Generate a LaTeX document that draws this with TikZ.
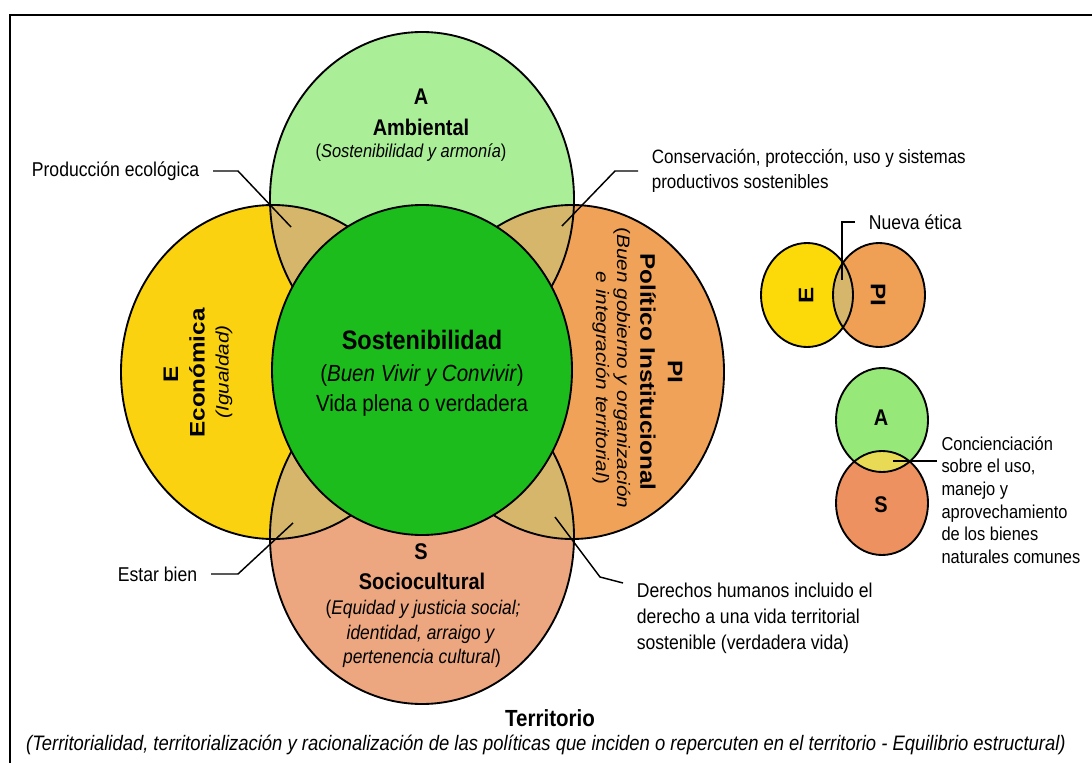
\documentclass[tikz,border=0pt]{standalone}
\usepackage{fontspec}
\setmainfont{Liberation Sans}[FakeStretch=0.88]
\newfontfamily\rotfont{Liberation Sans}[FakeStretch=1.15]

\definecolor{ambGreen}{RGB}{170,238,152}
\definecolor{ecoYellow}{RGB}{250,210,15}
\definecolor{polOrange}{RGB}{240,163,88}
\definecolor{socSalmon}{RGB}{236,166,128}
\definecolor{sostGreen}{RGB}{28,188,28}
\definecolor{mixTan}{RGB}{214,182,106}
\definecolor{smallYellow}{RGB}{252,218,10}
\definecolor{smallOrange}{RGB}{240,160,85}
\definecolor{smallGreen}{RGB}{150,232,120}
\definecolor{smallSalmon}{RGB}{236,145,95}
\definecolor{lensYellow}{RGB}{232,218,85}

\tikzset{every picture/.style={line width=0.75pt}}
\tikzset{
  bigoval/.style={x radius=152, y radius=167},
  smalloval/.style={x radius=46, y radius=52},
  ring/.style={line width=1.4pt},
  leader/.style={line width=1.1pt},
  lbl/.style={inner xsep=10pt, inner ysep=0pt, align=left, font=\fontsize{15}{19}\selectfont},
  ttl/.style={inner sep=0pt, font=\fontsize{17}{20}\selectfont\bfseries},
  sub/.style={inner sep=0pt, font=\fontsize{14.8}{18}\selectfont},
  rttl/.style={inner sep=0pt, font=\rotfont\fontsize{15.8}{19}\selectfont\bfseries},
  rsub/.style={inner sep=0pt, font=\rotfont\fontsize{13.5}{16}\selectfont}
}

\begin{document}
\begin{tikzpicture}[x=0.75pt,y=0.75pt,yscale=-1,xscale=1]
\useasboundingbox (0,0) rectangle (1092,763);

%Frame
\draw [line width=1.5pt] (10,775) -- (10,15) -- (1100,15);

%Centres of the ovals
\coordinate (cA) at (422,199);
\coordinate (cE) at (273,372);
\coordinate (cPI) at (572,372);
\coordinate (cS) at (422,537);
\coordinate (cG) at (422,370);

%Shape: Ellipse -- the four dimensions
\fill [ecoYellow] (cE) ellipse [bigoval];
\fill [polOrange] (cPI) ellipse [bigoval];
\fill [ambGreen] (cA) ellipse [bigoval];
\fill [socSalmon] (cS) ellipse [bigoval];
%overlaps
\begin{scope}
  \clip (cA) ellipse [bigoval];
  \fill [mixTan] (cE) ellipse [bigoval] (cPI) ellipse [bigoval];
\end{scope}
\begin{scope}
  \clip (cS) ellipse [bigoval];
  \fill [mixTan] (cE) ellipse [bigoval] (cPI) ellipse [bigoval];
\end{scope}
\draw [ring] (cA) ellipse [bigoval] (cE) ellipse [bigoval] (cPI) ellipse [bigoval] (cS) ellipse [bigoval];

%Shape: Ellipse -- centre
\draw [ring, fill=sostGreen] (cG) ellipse [x radius=150, y radius=165];

%Ambiental
\node [ttl] (tA) at (421,97) {A};
\node [ttl] (tAmb) at (421,127) {Ambiental};
\node [sub, font=\fontsize{14}{18}\selectfont] (sAmb) at (411,153) {(\textit{Sostenibilidad y armonía})};

%Sostenibilidad
\node [inner sep=0pt, font=\fontsize{20}{23}\selectfont\bfseries] (tSost) at (422,340) {Sostenibilidad};
\node [inner sep=0pt, font=\fontsize{17.5}{21}\selectfont] (sBuen) at (422,375) {(\textit{Buen Vivir y Convivir})};
\node [inner sep=0pt, font=\fontsize{17.5}{21}\selectfont] (sVida) at (422,405) {Vida plena o verdadera};

%Economica
\node [rttl, rotate=90] (tE) at (171,374) {E};
\node [rttl, rotate=90] (tEco) at (197,373) {Económica};
\node [rsub, rotate=90] (sIgu) at (224,372) {\textit{(Igualdad)}};

%Politico Institucional
\node [rttl, rotate=-90] (tPI) at (675,372) {PI};
\node [rttl, rotate=-90] (tPol) at (648,372) {Político Institucional};
\node [rsub, rotate=-90] (sGob) at (622,368) {(\textit{Buen gobierno y organización}};
\node [rsub, rotate=-90] (sInt) at (601,378) {\textit{e integración territorial})};

%Sociocultural
\node [ttl] (tS) at (421,552) {S};
\node [ttl] (tSoc) at (422,581) {Sociocultural};
\node [sub] (sEq) at (423,609) {(\textit{Equidad y justicia social;}};
\node [sub] (sIde) at (421,634) {\textit{identidad, arraigo y}};
\node [sub] (sPer) at (422,658) {\textit{pertenencia cultural})};

%Labels and leaders
\node [lbl, anchor=east] (lblProd) at (213,171) {Producción ecológica};
\coordinate (bProd) at (238,171);
\coordinate (pAE) at (291,227);
\draw [leader] (lblProd.east) -- (bProd) -- (pAE);

\node [lbl, anchor=west, font=\fontsize{14.5}{19}\selectfont] (lblCons) at (638,171) {Conservación, protección, uso y sistemas\\productivos sostenibles};
\coordinate (bCons) at (615,171);
\coordinate (pAP) at (562,226);
\draw [leader] (lblCons.west) -- (bCons) -- (pAP);

\node [lbl, anchor=east] (lblEst) at (211,574) {Estar bien};
\coordinate (bEst) at (238,574);
\coordinate (pES) at (293,523);
\draw [leader] (lblEst.east) -- (bEst) -- (pES);

\node [lbl, anchor=north west, font=\fontsize{15}{19.5}\selectfont] (lblDer) at (623,583) {Derechos humanos incluido el\\derecho a una vida territorial\\sostenible (verdadera vida)};
\coordinate (bDer) at (600,577);
\coordinate (pPS) at (555,517);
\draw [leader] (lblDer.north west) -- (bDer) -- (pPS);

%Small ovals: E and PI
\coordinate (cEs) at (807,295);
\coordinate (cPIs) at (879,295);
\fill [smallYellow] (cEs) ellipse [smalloval];
\fill [smallOrange] (cPIs) ellipse [smalloval];
\begin{scope}
  \clip (cEs) ellipse [smalloval];
  \fill [mixTan] (cPIs) ellipse [smalloval];
\end{scope}
\draw [ring] (cEs) ellipse [smalloval] (cPIs) ellipse [smalloval];
\node [rttl, rotate=90] (tEs) at (806,295) {E};
\node [rttl, rotate=-90] (tPIs) at (878,295) {PI};

\node [lbl, anchor=west] (lblNue) at (855,222) {Nueva ética};
\coordinate (bNue) at (842,222);
\coordinate (pEP) at (842,280);
\draw [leader] (lblNue.west) -- (bNue) -- (pEP);

%Small ovals: A and S
\coordinate (cAs) at (882,420);
\coordinate (cSs) at (882,503);
\fill [smallGreen] (cAs) ellipse [smalloval];
\fill [smallSalmon] (cSs) ellipse [smalloval];
\begin{scope}
  \clip (cAs) ellipse [smalloval];
  \fill [lensYellow] (cSs) ellipse [smalloval];
\end{scope}
\draw [ring] (cAs) ellipse [smalloval] (cSs) ellipse [smalloval];
\node [ttl] (tAs) at (881,418) {A};
\node [ttl] (tSs) at (881,505) {S};

\node [lbl, anchor=north west, inner xsep=3pt, font=\fontsize{14}{17}\selectfont] (lblCon) at (937,436) {Concienciación\\sobre el uso,\\manejo y\\aprovechamiento\\de los bienes\\naturales comunes};
\coordinate (pAS) at (893,461);
\draw [leader] (pAS) -- (pAS -| lblCon.west);

%Territorio
\node [inner sep=0pt, font=\fontsize{17.5}{20}\selectfont\bfseries] (tTer) at (550,718) {Territorio};
\node [inner sep=0pt, font=\fontsize{15.7}{18}\selectfont] (sTer) at (546,745) {\textit{(Territorialidad, territorialización y racionalización de las políticas que inciden o repercuten en el territorio - Equilibrio estructural)}};
\end{tikzpicture}
\end{document}
